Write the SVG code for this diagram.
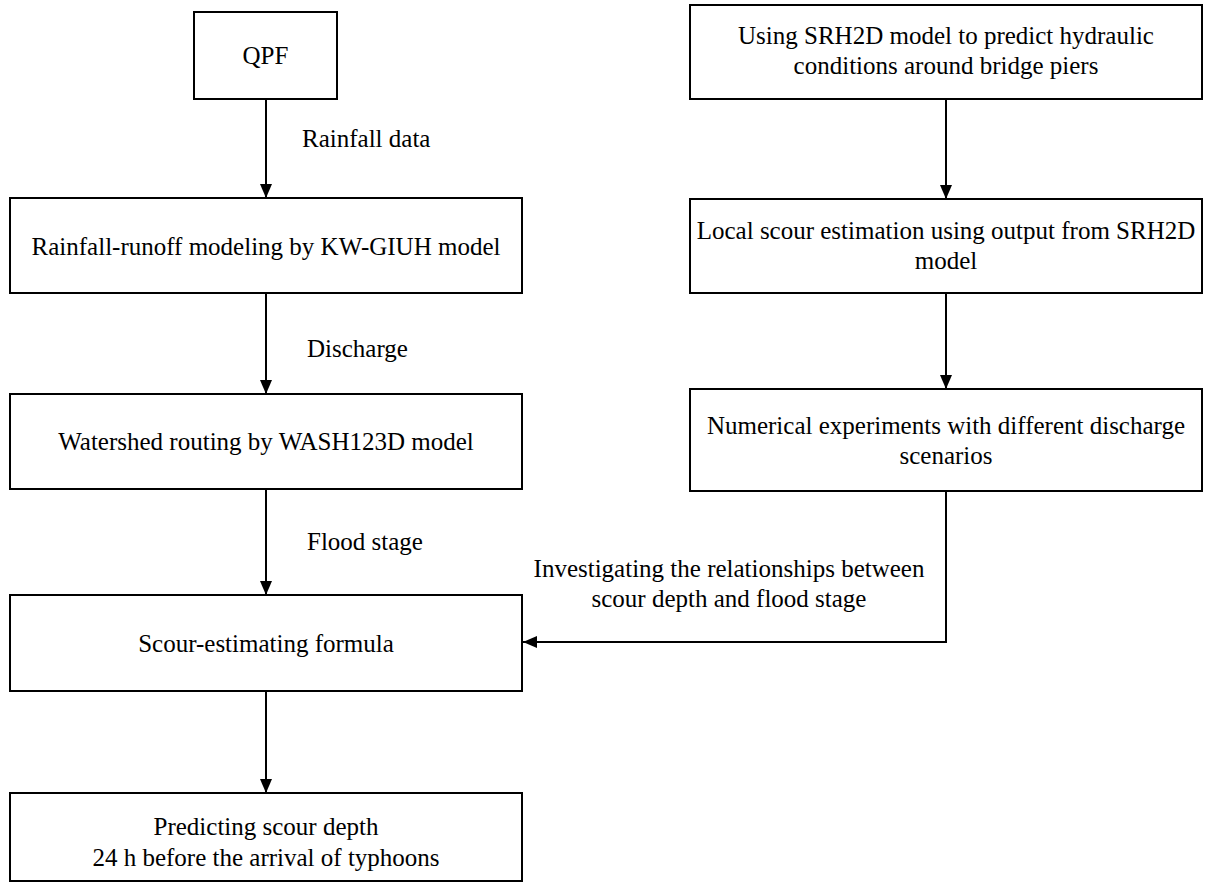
<svg xmlns="http://www.w3.org/2000/svg" width="1208" height="886" viewBox="0 0 1208 886">
<style>
.box{fill:#fff;stroke:#000;stroke-width:2}
.t{font-family:"Liberation Serif","Times New Roman",serif;font-size:25px;fill:#000}
.c{text-anchor:middle}
.ln{fill:none;stroke:#000;stroke-width:2}
</style>
<defs>
<marker id="ah" markerUnits="userSpaceOnUse" markerWidth="14" markerHeight="12" refX="14" refY="6" orient="auto">
<path d="M0,0 L14,6 L0,12 z" fill="#000"/>
</marker>
</defs>
<rect width="1208" height="886" fill="#fff"/>
<g id="connectors">
<line class="ln" x1="266" y1="99" x2="266" y2="198" marker-end="url(#ah)"/>
<line class="ln" x1="266" y1="293" x2="266" y2="394" marker-end="url(#ah)"/>
<line class="ln" x1="266" y1="489" x2="266" y2="595" marker-end="url(#ah)"/>
<line class="ln" x1="266" y1="691" x2="266" y2="793" marker-end="url(#ah)"/>
<line class="ln" x1="946" y1="99" x2="946" y2="199" marker-end="url(#ah)"/>
<line class="ln" x1="946" y1="293" x2="946" y2="389" marker-end="url(#ah)"/>
<polyline class="ln" points="946,491 946,642 523,642" marker-end="url(#ah)"/>
<text class="t" x="302" y="147">Rainfall data</text>
<text class="t" x="307" y="357">Discharge</text>
<text class="t" x="307" y="550">Flood stage</text>
<text class="t c" x="729" y="577">Investigating the relationships between</text>
<text class="t c" x="729" y="607">scour depth and flood stage</text>
</g>
<g id="qpf">
<rect class="box" x="194" y="12" width="143" height="87"/>
<text class="t c" x="265.5" y="64">QPF</text>
</g>
<g id="rainfall-runoff">
<rect class="box" x="10" y="198" width="512" height="95"/>
<text class="t c" x="266" y="255">Rainfall-runoff modeling by KW-GIUH model</text>
</g>
<g id="watershed">
<rect class="box" x="10" y="394" width="512" height="95"/>
<text class="t c" x="266" y="450">Watershed routing by WASH123D model</text>
</g>
<g id="scour-formula">
<rect class="box" x="10" y="595" width="512" height="96"/>
<text class="t c" x="266" y="652">Scour-estimating formula</text>
</g>
<g id="predicting">
<rect class="box" x="10" y="793" width="512" height="88"/>
<text class="t c" x="266" y="835">Predicting scour depth</text>
<text class="t c" x="266" y="866">24 h before the arrival of typhoons</text>
</g>
<g id="srh2d">
<rect class="box" x="690" y="5" width="512" height="94"/>
<text class="t c" x="946" y="44">Using SRH2D model to predict hydraulic</text>
<text class="t c" x="946" y="74">conditions around bridge piers</text>
</g>
<g id="local-scour">
<rect class="box" x="690" y="199" width="512" height="94"/>
<text class="t c" x="946" y="239">Local scour estimation using output from SRH2D</text>
<text class="t c" x="946" y="269">model</text>
</g>
<g id="numerical">
<rect class="box" x="690" y="389" width="512" height="102"/>
<text class="t c" x="946" y="434">Numerical experiments with different discharge</text>
<text class="t c" x="946" y="464">scenarios</text>
</g>
</svg>
